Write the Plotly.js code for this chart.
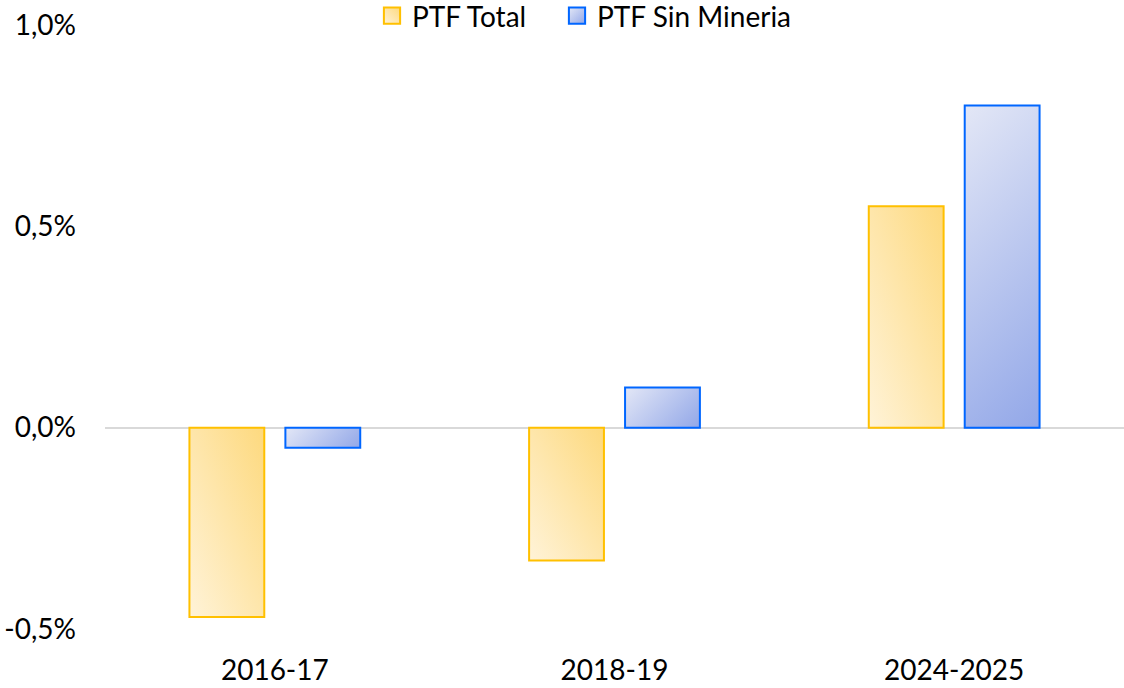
<!DOCTYPE html>
<html>
<head>
<meta charset="utf-8">
<script src="https://cdn.plot.ly/plotly-3.0.1.min.js"></script>
<style>html,body{margin:0;padding:0;background:#fff;}#chart{width:1124px;height:688px;}</style>
</head>
<body>
<div id="chart"></div>
<script>
const categories = ["2016-17", "2018-19", "2024-2025"];
const ptfTotal = [-0.47, -0.33, 0.55];
const ptfSinMineria = [-0.05, 0.10, 0.80];
const seriesNames = ["PTF Total", "PTF Sin Mineria"];
const yTickVals = [-0.5, 0, 0.5, 1.0];
const yTickText = ["-0,5%", "0,0%", "0,5%", "1,0%"];

const FONT = "Lato, 'Open Sans', sans-serif";

const traces = [
  {type: "bar", name: seriesNames[0], x: categories, y: ptfTotal, legend: "legend",
   marker: {color: "#FEE7AE", line: {color: "#FFC000", width: 2}}, hoverinfo: "skip"},
  {type: "bar", name: seriesNames[1], x: categories, y: ptfSinMineria, legend: "legend2",
   marker: {color: "#BFCAF0", line: {color: "#0066FF", width: 2}}, hoverinfo: "skip"}
];

const legendBase = {orientation: "h", xref: "container", yref: "container", xanchor: "left",
                    y: 1 - 16/688, yanchor: "middle", font: {size: 28, family: FONT},
                    bgcolor: "rgba(0,0,0,0)"};

const layout = {
  width: 1124, height: 688,
  margin: {l: 105, r: 0, t: 25, b: 59, autoexpand: false},
  paper_bgcolor: "#fff", plot_bgcolor: "#fff",
  barmode: "group", bargap: 0.435, bargroupgap: 0.22,
  font: {family: FONT, color: "#000", size: 28},
  showlegend: true,
  legend: Object.assign({}, legendBase, {x: 372/1124}),
  legend2: Object.assign({}, legendBase, {x: 557/1124}),
  xaxis: {type: "category", showgrid: false, showline: false, zeroline: false, ticks: "",
          tickfont: {size: 28, family: FONT}, ticklabelstandoff: 22, automargin: false},
  yaxis: {range: [-0.5, 1.0], tickvals: yTickVals, ticktext: yTickText, showgrid: false,
          showline: false, zeroline: true, zerolinecolor: "#D9D9D9", zerolinewidth: 2,
          ticks: "", tickfont: {size: 28, family: FONT}, ticklabelstandoff: 28, automargin: false}
};

function addGradients(gd) {
  const svg = gd.querySelector("svg.main-svg");
  if (!svg) return;
  const ns = "http://www.w3.org/2000/svg";
  let defs = svg.querySelector("defs");
  if (!defs) { defs = document.createElementNS(ns, "defs"); svg.insertBefore(defs, svg.firstChild); }
  let n = 0;
  function grad(attrs, c1, c2) {
    const id = "grd" + (n++);
    const g = document.createElementNS(ns, "linearGradient");
    g.setAttribute("id", id);
    Object.keys(attrs).forEach(k => g.setAttribute(k, attrs[k]));
    [[0, c1], [1, c2]].forEach(([o, c]) => {
      const s = document.createElementNS(ns, "stop");
      s.setAttribute("offset", o); s.setAttribute("stop-color", c);
      g.appendChild(s);
    });
    defs.appendChild(g);
    return "url(#" + id + ")";
  }
  function fillPath(p, i) {
    if (i === 0) {
      p.style.fill = grad({x1: 0, y1: 1, x2: 1, y2: 0}, "#FFF3D8", "#FDD97E");
    } else {
      const b = p.getBBox();
      const d = (b.width + b.height) / 2;
      p.style.fill = grad({gradientUnits: "userSpaceOnUse", x1: b.x, y1: b.y, x2: b.x + d, y2: b.y + d},
                          "#E3E7F6", "#92A7E8");
    }
  }
  gd.querySelectorAll(".barlayer .trace").forEach((t, i) => {
    t.querySelectorAll("path").forEach(p => fillPath(p, i));
  });
  [".legend", ".legend2"].forEach((sel, i) => {
    gd.querySelectorAll("g" + sel + " .legendpoints path").forEach(p => {
      const tr = p.getAttribute("transform") || "";
      p.setAttribute("transform", (tr + " scale(1.35)").trim());
      p.style.strokeWidth = "1.5px";
      if (i === 0) p.style.fill = grad({x1: 0, y1: 1, x2: 1, y2: 0}, "#FFF3D8", "#FDD97E");
      else p.style.fill = grad({x1: 0, y1: 0, x2: 1, y2: 1}, "#E3E7F6", "#92A7E8");
    });
  });
}

Plotly.newPlot("chart", traces, layout, {displayModeBar: false, staticPlot: true}).then(addGradients);
</script>
</body>
</html>
